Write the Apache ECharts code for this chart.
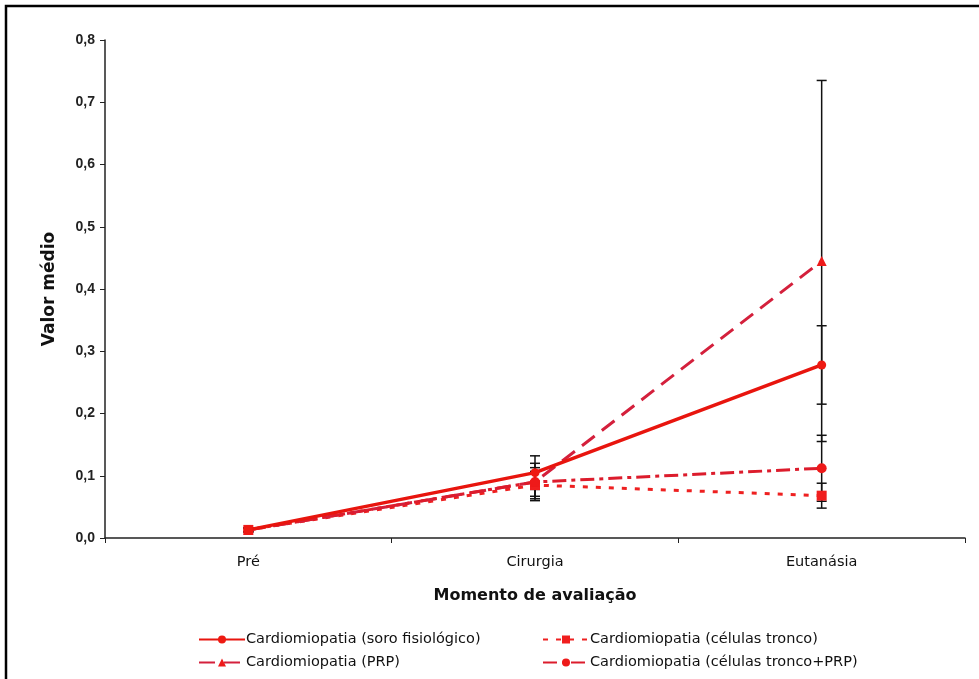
<!DOCTYPE html>
<html>
<head>
<meta charset="utf-8">
<script src="https://cdn.jsdelivr.net/npm/echarts@6/dist/echarts.min.js"></script>
<style>
html,body{margin:0;padding:0;background:#fff;}
#c{width:979px;height:679px;}
</style>
</head>
<body>
<div id="c"></div>
<script>
var categories = ['Pré', 'Cirurgia', 'Eutanásia'];
var seriesNames = [
  'Cardiomiopatia (soro fisiológico)',
  'Cardiomiopatia (células tronco)',
  'Cardiomiopatia (PRP)',
  'Cardiomiopatia (células tronco+PRP)'
];
var soro = [0.013, 0.105, 0.278];
var tronco = [0.013, 0.085, 0.068];
var prp = [0.013, 0.090, 0.445];
var troncoPrp = [0.013, 0.090, 0.112];
var soroErr = [0.003, 0.027, 0.063];
var troncoErr = [0.003, 0.022, 0.020];
var prpErr = [0.003, 0.030, 0.290];
var troncoPrpErr = [0.003, 0.023, 0.053];

function errData(vals, errs) {
  return vals.map(function (v, i) { return [i, v - errs[i], v + errs[i]]; });
}

function errSeries(vals, errs) {
  return {
    type: 'custom',
    z: 1,
    silent: true,
    data: errData(vals, errs),
    renderItem: function (params, api) {
      var lo = api.coord([api.value(0), api.value(1)]);
      var hi = api.coord([api.value(0), api.value(2)]);
      var w = 5;
      var st = { stroke: '#111', lineWidth: 1.5 };
      return {
        type: 'group',
        children: [
          { type: 'line', shape: { x1: lo[0], y1: lo[1], x2: hi[0], y2: hi[1] }, style: st },
          { type: 'line', shape: { x1: hi[0] - w, y1: hi[1], x2: hi[0] + w, y2: hi[1] }, style: st },
          { type: 'line', shape: { x1: lo[0] - w, y1: lo[1], x2: lo[0] + w, y2: lo[1] }, style: st }
        ]
      };
    }
  };
}

var chart = echarts.init(document.getElementById('c'));
var font = 'Liberation Sans, Arial, sans-serif';
var wide = 'DejaVu Sans, Verdana, sans-serif';
chart.setOption({
  animation: false,
  backgroundColor: '#fff',
  grid: { left: 105, right: 14, top: 40, bottom: 141, containLabel: false },
  graphic: [{
    type: 'rect', silent: true,
    shape: { x: 6, y: 6, width: 1000, height: 700 },
    style: { fill: 'none', stroke: '#000', lineWidth: 2.5 }
  }],
  legend: [
    {
      data: [seriesNames[0], seriesNames[2]],
      orient: 'vertical', left: 193, top: 627,
      itemWidth: 46, itemHeight: 10, itemGap: 8,
      textStyle: { fontFamily: wide, fontSize: 14.5, color: '#111', padding: [0, 0, 0, -4] }
    },
    {
      data: [seriesNames[1], seriesNames[3]],
      orient: 'vertical', left: 537, top: 627,
      itemWidth: 46, itemHeight: 10, itemGap: 8,
      textStyle: { fontFamily: wide, fontSize: 14.5, color: '#111', padding: [0, 0, 0, -4] }
    }
  ],
  xAxis: {
    type: 'category',
    data: categories,
    boundaryGap: true,
    name: 'Momento de avaliação',
    nameLocation: 'middle',
    nameGap: 50,
    nameTextStyle: { fontFamily: wide, fontSize: 16, fontWeight: 'bold', color: '#111' },
    axisLine: { lineStyle: { color: '#222', width: 1.5 } },
    axisTick: { show: true, length: 5, inside: false, lineStyle: { color: '#222' } },
    axisLabel: { fontFamily: wide, fontSize: 14.5, color: '#111', margin: 17 },
    splitLine: { show: false }
  },
  yAxis: {
    type: 'value',
    min: 0, max: 0.8, interval: 0.1,
    name: 'Valor médio',
    nameLocation: 'middle',
    nameGap: 47,
    nameTextStyle: { fontFamily: wide, fontSize: 17, fontWeight: 'bold', color: '#111' },
    axisLine: { show: true, lineStyle: { color: '#222', width: 1.5 } },
    axisTick: { show: true, length: 5, lineStyle: { color: '#222' } },
    axisLabel: {
      fontFamily: font, fontSize: 14, fontWeight: 'bold', color: '#222', margin: 10,
      formatter: function (v) { return v.toFixed(1).replace('.', ','); }
    },
    splitLine: { show: false }
  },
  series: [
    errSeries(soro, soroErr),
    errSeries(tronco, troncoErr),
    errSeries(prp, prpErr),
    errSeries(troncoPrp, troncoPrpErr),
    {
      name: seriesNames[0], type: 'line', data: soro, z: 5,
      symbol: 'circle', symbolSize: 9,
      lineStyle: { color: '#e8150e', width: 3.5, type: 'solid' },
      itemStyle: { color: '#ee1a12' }
    },
    {
      name: seriesNames[1], type: 'line', data: tronco, z: 4,
      symbol: 'rect', symbolSize: 10,
      lineStyle: { color: '#ee2020', width: 3, type: [5, 8] },
      itemStyle: { color: '#f01e1e' }
    },
    {
      name: seriesNames[2], type: 'line', data: prp, z: 4,
      symbol: 'triangle', symbolSize: 10,
      lineStyle: { color: '#d4203c', width: 3, type: [16, 9] },
      itemStyle: { color: '#ee1a1a' }
    },
    {
      name: seriesNames[3], type: 'line', data: troncoPrp, z: 4,
      symbol: 'circle', symbolSize: 10,
      lineStyle: { color: '#dc1c2c', width: 3, type: [14, 5, 4, 5] },
      itemStyle: { color: '#ee1a1a' }
    }
  ]
});
</script>
</body>
</html>
